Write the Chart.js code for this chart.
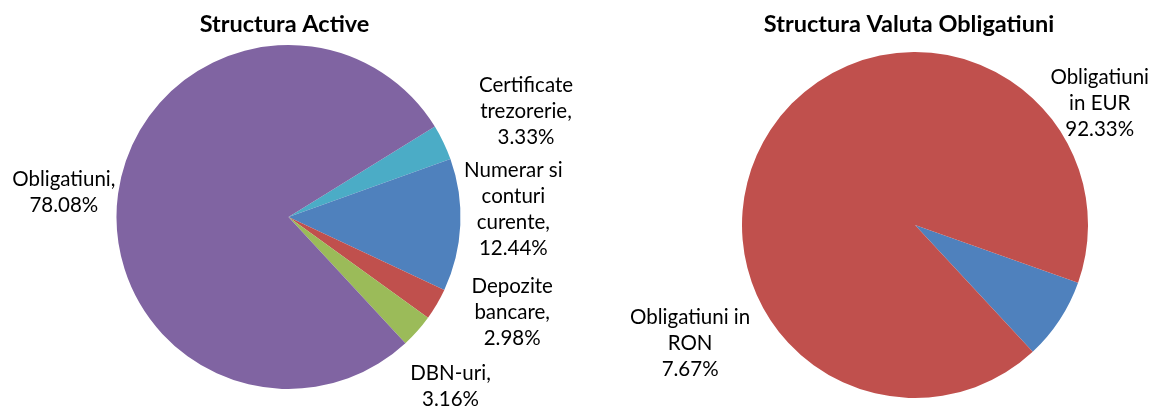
<!DOCTYPE html>
<html>
<head>
<meta charset="utf-8">
<script src="https://cdn.jsdelivr.net/npm/chart.js@4"></script>
<style>
  body { margin: 0; background: #fff; }
  #wrap { position: relative; width: 1155px; height: 407px; }
  #c1 { position: absolute; left: 0; top: 0; }
  #c2 { position: absolute; left: 577px; top: 0; }
</style>
</head>
<body>
<div id="wrap">
  <canvas id="c1" width="577" height="407"></canvas>
  <canvas id="c2" width="578" height="407"></canvas>
</div>
<script>
// Structura Active
const activeLabels = [['Certificate', 'trezorerie,'], ['Numerar si', 'conturi', 'curente,'], ['Depozite', 'bancare,'], ['DBN-uri,'], ['Obligatiuni,']];
const activeValues = [3.33, 12.44, 2.98, 3.16, 78.08];
const activeColors = ['#4BACC6', '#4F81BD', '#C0504D', '#9BBB59', '#8064A2'];

// Structura Valuta Obligatiuni
const valutaLabels = [['Obligatiuni in', 'RON'], ['Obligatiuni', 'in EUR']];
const valutaValues = [7.67, 92.33];
const valutaColors = ['#4F81BD', '#C0504D'];

const FONT = 'Lato, "Open Sans", sans-serif';

// draws the title and the outside labels (angle clockwise from 12 o'clock, distance from center)
const pieText = {
  id: 'pieText',
  afterDraw(chart, args, opts) {
    const ctx = chart.ctx;
    const meta = chart.getDatasetMeta(0);
    const arc0 = meta.data[0];
    const cx = arc0.x, cy = arc0.y;
    ctx.save();
    ctx.fillStyle = '#000';
    ctx.textAlign = 'center';
    ctx.textBaseline = 'middle';
    ctx.font = 'bold 23.5px ' + FONT;
    ctx.fillText(opts.title, opts.titleX, 24);
    ctx.font = '20.5px ' + FONT;
    const vals = chart.data.datasets[0].data;
    chart.data.labels.forEach((lab, i) => {
      const lines = lab.concat([vals[i].toFixed(2) + '%']);
      const a = opts.angles[i] * Math.PI / 180;
      const x = cx + opts.dists[i] * Math.sin(a);
      const y = cy - opts.dists[i] * Math.cos(a);
      const lh = 26;
      const y0 = y - (lines.length - 1) * lh / 2;
      lines.forEach((t, k) => ctx.fillText(t, x, y0 + k * lh));
    });
    ctx.restore();
  }
};

function makePie(id, labels, values, colors, rotation, padding, text) {
  return new Chart(document.getElementById(id), {
    type: 'pie',
    data: {
      labels: labels,
      datasets: [{
        data: values,
        backgroundColor: colors,
        borderWidth: 0,
        hoverOffset: 0
      }]
    },
    options: {
      responsive: false,
      animation: false,
      events: [],
      rotation: rotation,
      layout: { padding: padding },
      plugins: {
        legend: { display: false },
        tooltip: { enabled: false },
        pieText: text
      }
    },
    plugins: [pieText]
  });
}

makePie('c1', activeLabels, activeValues, activeColors, 58.3,
  { top: 45, bottom: 18, left: 0, right: 0 },
  { title: 'Structura Active', titleX: 284.5, angles: [66, 88, 113, 136.3, 276.2], dists: [260, 225, 243, 234.5, 226] });

makePie('c2', valutaLabels, valutaValues, valutaColors, 109.5,
  { top: 52, bottom: 9, left: 98, right: 0 },
  { title: 'Structura Valuta Obligatiuni', titleX: 332, angles: [242.3, 56.7], dists: [254, 221] });
</script>
</body>
</html>
